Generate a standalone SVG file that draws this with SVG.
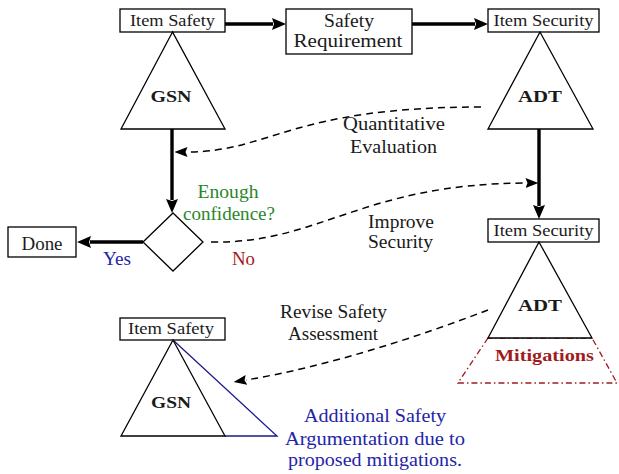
<svg xmlns="http://www.w3.org/2000/svg" width="619" height="474" viewBox="0 0 619 474">
<style>
text{font-family:"Liberation Serif","Times New Roman",serif;font-size:18px;fill:#1a1a1a;text-anchor:middle}
.lbl{font-size:16px}
.b{font-weight:bold;font-size:17px}
.box{fill:#fff;stroke:#000;stroke-width:1.3}
.tri{fill:#fff;stroke:#000;stroke-width:1.3;stroke-linejoin:miter}
.thick{fill:none;stroke:#000;stroke-width:3.4}
.dash{fill:none;stroke:#000;stroke-width:1.5;stroke-dasharray:7 5}
.green{fill:#2a862a}
.blue{fill:#2424a8}
.red{fill:#a01c1c}
</style>
<defs>
<marker id="ah" markerUnits="userSpaceOnUse" viewBox="0 0 14 12" markerWidth="14" markerHeight="12" refX="1" refY="6" orient="auto">
<path d="M0,0 L14,6 L0,12 L2,6 Z" fill="#000"/>
</marker>
<marker id="dh" markerUnits="userSpaceOnUse" viewBox="0 0 13 10" markerWidth="13" markerHeight="10" refX="0.5" refY="5" orient="auto">
<path d="M0,0 L13,5 L0,10 L2,5 Z" fill="#000"/>
</marker>
</defs>

<g id="connectors">
<line class="thick" x1="225" y1="24" x2="273" y2="24" marker-end="url(#ah)"/>
<line class="thick" x1="412" y1="24" x2="475" y2="24" marker-end="url(#ah)"/>
<line class="thick" x1="172" y1="129" x2="172" y2="200" marker-end="url(#ah)"/>
<line class="thick" x1="539" y1="129" x2="539" y2="206" marker-end="url(#ah)"/>
<line class="thick" x1="143" y1="242" x2="90" y2="242" marker-end="url(#ah)"/>
<path class="dash" d="M481,107 C290,107 270,152 187,152" marker-end="url(#dh)"/>
<path class="dash" d="M211,242 C320,244 360,184 526,183" marker-end="url(#dh)"/>
<path class="dash" d="M488,310 C420,336 330,366 246,380" marker-end="url(#dh)"/>
</g>

<g id="item-safety-top">
<rect class="box" x="120" y="9" width="105" height="23"/>
<text class="lbl" x="172.5" y="26" textLength="85" lengthAdjust="spacingAndGlyphs">Item Safety</text>
</g>
<g id="gsn-top">
<polygon class="tri" points="172.5,32 121,129 225,129"/>
<text class="b" x="171" y="102" textLength="41" lengthAdjust="spacingAndGlyphs">GSN</text>
</g>

<g id="safety-requirement">
<rect class="box" x="286" y="9" width="126" height="45"/>
<text x="349" y="27" textLength="50" lengthAdjust="spacingAndGlyphs">Safety</text>
<text x="348" y="47" textLength="109" lengthAdjust="spacingAndGlyphs">Requirement</text>
</g>

<g id="item-security-top">
<rect class="box" x="488" y="9" width="111" height="23"/>
<text class="lbl" x="543.5" y="26" textLength="100" lengthAdjust="spacingAndGlyphs">Item Security</text>
</g>
<g id="adt-top">
<polygon class="tri" points="540,32 488,129 593,129"/>
<text class="b" x="540" y="102" textLength="44" lengthAdjust="spacingAndGlyphs">ADT</text>
</g>

<g id="decision">
<polygon class="box" points="173,213 203,242 173,271 143,242"/>
<text class="green" x="228" y="198" textLength="61" lengthAdjust="spacingAndGlyphs">Enough</text>
<text class="green" x="229" y="220" textLength="92" lengthAdjust="spacingAndGlyphs">confidence?</text>
</g>

<g id="done">
<rect class="box" x="8" y="227" width="68" height="30"/>
<text x="42" y="250" textLength="41" lengthAdjust="spacingAndGlyphs">Done</text>
</g>

<g id="edge-labels">
<text class="blue" x="117" y="265" textLength="28" lengthAdjust="spacingAndGlyphs">Yes</text>
<text class="red" x="243.5" y="265" textLength="23" lengthAdjust="spacingAndGlyphs">No</text>
<text x="394" y="130" textLength="102" lengthAdjust="spacingAndGlyphs">Quantitative</text>
<text x="393.5" y="153" textLength="87" lengthAdjust="spacingAndGlyphs">Evaluation</text>
<text x="401" y="228" textLength="66" lengthAdjust="spacingAndGlyphs">Improve</text>
<text x="400.5" y="248" textLength="65" lengthAdjust="spacingAndGlyphs">Security</text>
<text x="333.5" y="318" textLength="107" lengthAdjust="spacingAndGlyphs">Revise Safety</text>
<text x="333" y="340" textLength="90" lengthAdjust="spacingAndGlyphs">Assessment</text>
</g>

<g id="item-security-bottom">
<rect class="box" x="488" y="219" width="111" height="23"/>
<text class="lbl" x="543.5" y="236" textLength="100" lengthAdjust="spacingAndGlyphs">Item Security</text>
</g>
<g id="adt-bottom">
<polygon points="488,338 458,383 617,383 592,338" fill="none" stroke="#a01c1c" stroke-width="1.3" stroke-dasharray="6 3 1.5 3"/>
<polygon class="tri" points="539,242 488,338 592,338"/>
<text class="b" x="540" y="311" textLength="44" lengthAdjust="spacingAndGlyphs">ADT</text>
<text class="b red" x="544.5" y="361" textLength="99" lengthAdjust="spacingAndGlyphs">Mitigations</text>
</g>

<g id="item-safety-bottom">
<rect class="box" x="120" y="318" width="105" height="22"/>
<text class="lbl" x="171" y="334" textLength="86" lengthAdjust="spacingAndGlyphs">Item Safety</text>
</g>
<g id="gsn-bottom">
<polyline points="173,340 277,436 225,436" fill="none" stroke="#1a1a8c" stroke-width="1.3"/>
<polygon class="tri" points="173,340 121,436 225,436"/>
<text class="b" x="171" y="408" textLength="40" lengthAdjust="spacingAndGlyphs">GSN</text>
<text class="blue" x="375" y="422" textLength="142" lengthAdjust="spacingAndGlyphs">Additional Safety</text>
<text class="blue" x="375" y="445" textLength="180" lengthAdjust="spacingAndGlyphs">Argumentation due to</text>
<text class="blue" x="375" y="466" textLength="174" lengthAdjust="spacingAndGlyphs">proposed mitigations.</text>
</g>
</svg>
